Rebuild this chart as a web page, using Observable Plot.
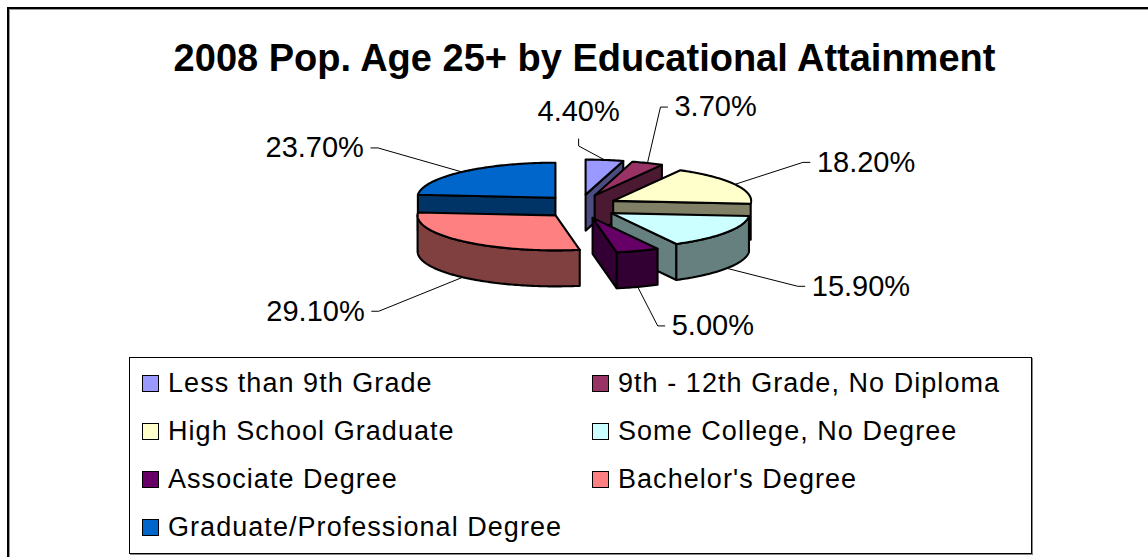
<!DOCTYPE html>
<html>
<head>
<meta charset="utf-8">
<script src="https://cdn.jsdelivr.net/npm/d3@7"></script>
<script src="https://cdn.jsdelivr.net/npm/@observablehq/plot@0.6"></script>
<style>
  html, body { margin: 0; padding: 0; background: #fff; }
  body { width: 1148px; height: 557px; overflow: hidden; position: relative; font-family: "Liberation Sans", Arial, sans-serif; }
  #frame { position: absolute; left: 7px; top: 7px; width: 1200px; height: 600px; border-left: 2px solid #000; border-top: 2px solid #000; box-shadow: inset 1px 1px 0 #999; }
  #chart { position: absolute; left: 0; top: 0; }
  #legend { position: absolute; left: 129px; top: 357px; width: 901px; height: 195px; border: 1px solid #000; box-shadow: 1px 1px 0 #888; background: #fff; }
  .item { position: absolute; height: 30px; display: flex; align-items: center; white-space: nowrap; font-size: 27px; letter-spacing: 1.05px; color: #000; }
  .sw { width: 15px; height: 15px; border: 1.7px solid #000; margin-right: 9px; flex: none; }
</style>
</head>
<body>
<div id="frame"></div>
<div id="chart"></div>
<div id="legend"></div>
<script>
// ---------------- data ----------------
const title = "2008 Pop. Age 25+ by Educational Attainment";
const categories = [
  "Less than 9th Grade",
  "9th - 12th Grade, No Diploma",
  "High School Graduate",
  "Some College, No Degree",
  "Associate Degree",
  "Bachelor's Degree",
  "Graduate/Professional Degree"
];
const shares = [4.4, 3.7, 18.2, 15.9, 5.0, 29.1, 23.7];
const topColors  = ["#9999FF", "#993366", "#FFFFCC", "#CCFFFF", "#660066", "#FF8080", "#0066CC"];
const sideColors = ["#4C4C80", "#4C1933", "#808066", "#668080", "#330033", "#804040", "#003366"];

// ---------------- layout ----------------
const W = 1148, H = 557;
const R = 138;                 // pie radius in px (x scale unit)
const CX = 580, CY = 206;      // pie centre in px
const TILT = 35 / R;           // vertical semi-axis of the top ellipse (world units)
const THICK = 36 / R;          // slab thickness (world units)
const EXPLODE_X = 37 / R, EXPLODE_Y = 12 / R;
const MIN_ARC = 6 * Math.PI / 180; // side arcs narrower than this are hidden behind neighbours
// label leader: offset from slice anchor to elbow (px) and side of the text
const labelElbow = [[-26, -14], [13, -56], [68, -22], [71, 18], [20, 39], [-84, 34], [-84, -24]];
const labelSide  = ["up", "right", "right", "right", "right", "left", "left"];

const total = d3.sum(shares);
const fmt = d3.format(".2f");
const labelText = shares.map(v => fmt(v) + "%");

// slices
let acc = 0;
const slices = shares.map((v, i) => {
  const a0 = acc / total * 2 * Math.PI;
  acc += v;
  const a1 = acc / total * 2 * Math.PI;
  const mid = (a0 + a1) / 2;
  return {i, a0, a1, mid, ox: EXPLODE_X * Math.sin(mid), oy: EXPLODE_Y * Math.cos(mid)};
});

function rim(s, t, bottom) {
  return [s.ox + Math.sin(t), s.oy + TILT * Math.cos(t) - (bottom ? THICK : 0)];
}
function arcPts(s, t0, t1, bottom) {
  const n = Math.max(2, Math.ceil((t1 - t0) / (Math.PI / 180)));
  return d3.range(n + 1).map(k => rim(s, t0 + (t1 - t0) * k / n, bottom));
}

// faces, painter's order (back slices first)
const order = slices.slice().sort((a, b) => Math.cos(b.mid) - Math.cos(a.mid));
const faces = [];
for (const s of order) {
  const ct = [s.ox, s.oy], cb = [s.ox, s.oy - THICK];
  const side = sideColors[s.i];
  if (Math.sin(s.a0) < -1e-6) faces.push({pts: [ct, rim(s, s.a0, false), rim(s, s.a0, true), cb], fill: side});
  if (Math.sin(s.a1) > 1e-6) faces.push({pts: [ct, rim(s, s.a1, false), rim(s, s.a1, true), cb], fill: side});
  const b0 = Math.max(s.a0, Math.PI / 2), b1 = Math.min(s.a1, 3 * Math.PI / 2);
  if (b1 - b0 > MIN_ARC) faces.push({pts: [...arcPts(s, b0, b1, false), ...arcPts(s, b0, b1, true).reverse()], fill: side});
  faces.push({pts: [ct, ...arcPts(s, s.a0, s.a1, false)], fill: topColors[s.i]});
}

// labels & leaders
const labels = slices.map(s => {
  const front = Math.cos(s.mid) < 0;
  const anchor = rim(s, s.mid, front);
  const [dx, dy] = labelElbow[s.i];
  const elbow = [anchor[0] + dx / R, anchor[1] - dy / R];
  const side = labelSide[s.i];
  let tail, pos;
  if (side === "up") { tail = [elbow[0], elbow[1] + 7 / R]; pos = [tail[0], tail[1] + 27 / R]; }
  else if (side === "right") { tail = [elbow[0] + 7 / R, elbow[1]]; pos = [tail[0] + 7 / R, tail[1]]; }
  else { tail = [elbow[0] - 7 / R, elbow[1]]; pos = [tail[0] - 7 / R, tail[1]]; }
  return {text: labelText[s.i], side, leader: [anchor, elbow, tail], x: pos[0], y: pos[1]};
});

const px = d => d[0], py = d => d[1];
const marks = [
  Plot.text([title], {frameAnchor: "top", dx: 10, dy: 58, fontSize: 38, fontWeight: "bold", lineAnchor: "middle", fill: "#000"}),
  ...faces.map(f => Plot.line(f.pts, {x: px, y: py, curve: "linear-closed", fill: f.fill, stroke: "#000", strokeWidth: 2.1, strokeLinejoin: "round"})),
  ...labels.map(l => Plot.line(l.leader, {x: px, y: py, stroke: "#000", strokeWidth: 1})),
  Plot.text(labels.filter(l => l.side === "right"), {x: "x", y: "y", text: "text", textAnchor: "start", lineAnchor: "middle", fontSize: 29, fill: "#000", ariaLabel: "pct"}),
  Plot.text(labels.filter(l => l.side === "left"), {x: "x", y: "y", text: "text", textAnchor: "end", lineAnchor: "middle", fontSize: 29, fill: "#000", ariaLabel: "pct"}),
  Plot.text(labels.filter(l => l.side === "up"), {x: "x", y: "y", text: "text", textAnchor: "middle", lineAnchor: "middle", fontSize: 29, fill: "#000", ariaLabel: "pct"})
];

const chart = Plot.plot({
  width: W, height: H, margin: 0,
  x: {domain: [-CX / R, (W - CX) / R], axis: null},
  y: {domain: [-(H - CY) / R, CY / R], axis: null},
  style: {background: "transparent", fontFamily: "'Liberation Sans', Arial, sans-serif", overflow: "visible"},
  marks
});
chart.querySelectorAll('g[aria-label="pct"] text').forEach(t => t.style.letterSpacing = "0.6px");
document.getElementById("chart").appendChild(chart);

// legend (HTML, two columns, row-wise)
const legend = document.getElementById("legend");
categories.forEach((c, i) => {
  const col = i % 2, row = Math.floor(i / 2);
  const it = document.createElement("div");
  it.className = "item";
  it.style.left = (12 + col * 450) + "px";
  it.style.top = (10 + row * 48) + "px";
  const sw = document.createElement("div");
  sw.className = "sw";
  sw.style.background = topColors[i];
  const tx = document.createElement("span");
  tx.textContent = c;
  it.appendChild(sw); it.appendChild(tx);
  legend.appendChild(it);
});
</script>
</body>
</html>
